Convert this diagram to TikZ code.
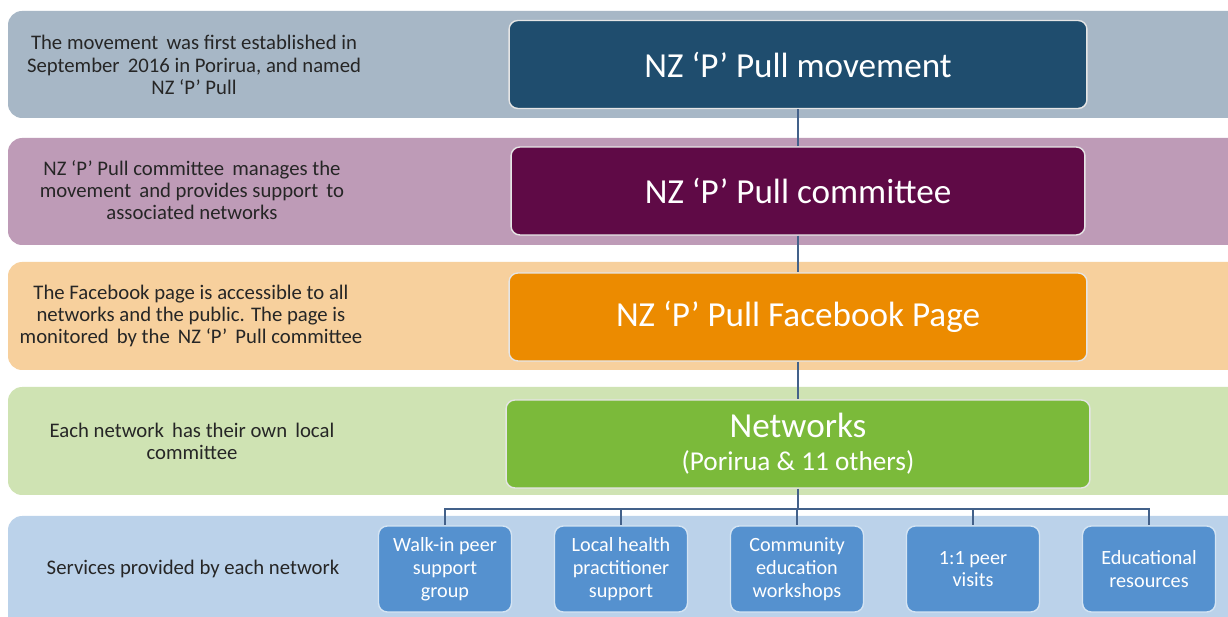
\documentclass[tikz,border=0pt]{standalone}
\usepackage{fontspec}
\setmainfont{Carlito}
\usetikzlibrary{positioning}

% band and box colours
\definecolor{bandmove}{HTML}{A7B7C6}
\definecolor{bandcomm}{HTML}{BE9BB7}
\definecolor{bandface}{HTML}{F7D09D}
\definecolor{bandnet}{HTML}{CFE3B3}
\definecolor{bandserv}{HTML}{BBD2EA}
\definecolor{boxmove}{HTML}{1F4D6E}
\definecolor{boxcomm}{HTML}{5F0A46}
\definecolor{boxface}{HTML}{EC8B00}
\definecolor{boxnet}{HTML}{7BBA3A}
\definecolor{boxserv}{HTML}{5591CF}
\definecolor{linkcol}{HTML}{43618A}

\begin{document}
\begin{tikzpicture}[x=0.02cm,y=-0.02cm,
  band/.style={rounded corners=8pt},
  mainbox/.style={draw=white!80!gray, line width=0.8pt, rounded corners=5pt,
    minimum width=11.56cm, minimum height=1.76cm, text=white, align=center,
    font=\fontsize{20}{21}\selectfont},
  note/.style={align=center, text=black!85, font=\fontsize{11.8}{12.6}\selectfont},
  servbox/.style={fill=boxserv, draw=white!75!boxserv, line width=0.8pt,
    rounded corners=5pt, minimum width=2.66cm, minimum height=1.72cm,
    text=white, align=center, font=\fontsize{11.5}{13}\selectfont},
  link/.style={draw=linkcol, line width=0.7pt}]

% page size
\clip (0,0) rectangle (1228,617);
\fill[white] (0,0) rectangle (1228,617);

% the five bands
\fill[bandmove, band] (8,11) rectangle (1260,118);
\fill[bandcomm, band] (8,138) rectangle (1260,245);
\fill[bandface, band] (8,262) rectangle (1260,370);
\fill[bandnet, band] (8,387) rectangle (1260,495);
\fill[bandserv, band] (8,516) rectangle (1260,660);

% notes on the left
\node[note] (nmove) at (194,65) {The movement\, was first established in\\September\, 2016 in Porirua, and named\\NZ ‘P’ Pull};
\node[note] (ncomm) at (192,190) {NZ ‘P’ Pull committee\, manages the\\movement\, and provides support\, to\\associated networks};
\node[note] (nface) at (191,316) {The Facebook page is accessible to all\\networks and the public. The page is\\monitored\, by the\, NZ ‘P’\, Pull committee};
\node[note] (nnet) at (192,441) {Each network\, has their own\, local\\committee};
\node[note] (nserv) at (193,569) {Services provided by each network};

% main boxes
\node[mainbox, fill=boxmove] (move) at (798,64.5) {NZ ‘P’ Pull movement};
\node[mainbox, fill=boxcomm, minimum width=11.48cm] (comm) at (798,191) {NZ ‘P’ Pull committee};
\node[mainbox, fill=boxface] (face) at (798,317) {NZ ‘P’ Pull Facebook Page};
\node[mainbox, fill=boxnet, minimum width=11.68cm] (net) at (798,444) {Networks\\[-2pt]{\fontsize{15.5}{17}\selectfont (Porirua \& 11 others)}};

% services
\node[servbox] (walk) at (445,569) {Walk-in peer\\support\\group};
\node[servbox] (health) at (621,569) {Local health\\practitioner\\support};
\node[servbox] (work) at (797,569) {Community\\education\\workshops};
\node[servbox] (visit) at (973,569) {1:1 peer\\visits};
\node[servbox] (edu) at (1149,569) {Educational\\resources};

% connectors
\draw[link] (move) -- (comm);
\draw[link] (comm) -- (face);
\draw[link] (face) -- (net);
\coordinate (bus) at (798,509);
\draw[link] (net.south) -- (net.south |- bus);
\foreach \s in {walk,health,work,visit,edu}
  \draw[link] (net.south |- bus) -| (\s.north);

\end{tikzpicture}
\end{document}
